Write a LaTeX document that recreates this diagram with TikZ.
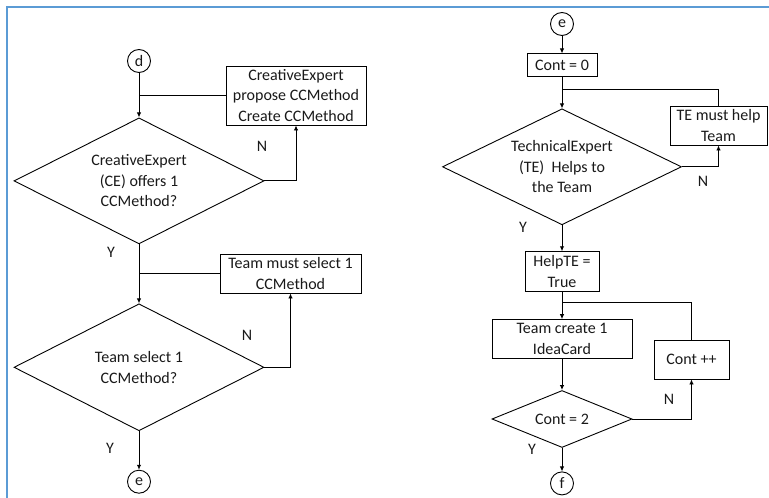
\documentclass[tikz,border=0pt]{standalone}
\usepackage{fontspec}
\setmainfont{Carlito}
\usetikzlibrary{shapes.geometric,arrows.meta,positioning}
\definecolor{frameblue}{RGB}{91,155,213}
\newcommand{\flowfont}{\fontsize{16}{20.5}\selectfont}
\tikzset{
  box/.style={rectangle, draw, align=center, inner sep=0pt, font=\flowfont, text=black!90},
  decision/.style={diamond, draw, aspect=2, align=center, inner sep=0pt, font=\flowfont, text=black!90},
  conn/.style={circle, draw, minimum size=23pt, inner sep=0pt, font=\flowfont, text=black!90},
  lbl/.style={font=\flowfont, inner sep=0pt, text=black!90},
  arr/.style={-{Latex[length=5pt,width=4.5pt]}}
}

\begin{document}
\begin{tikzpicture}[x=1pt, y=-1pt, line width=0.9pt]
\useasboundingbox (0,0) rectangle (769,498);
\draw[frameblue, line width=2.2pt] (7,498) -- (7,7) -- (769,7);

% left flow
\node[conn] (d) at (139,61) {d};
\node[decision, minimum width=250pt, minimum height=126pt, below=44.5pt of d] (ceoffers) {CreativeExpert\\(CE) offers 1\\CCMethod?};
\node[box, minimum width=140pt, minimum height=59pt] (cepropose) at (296,95.5) {CreativeExpert\\propose CCMethod\\Create CCMethod};
\node[decision, minimum width=250pt, minimum height=127pt, below=59pt of ceoffers] (teamsel) {Team select 1\\CCMethod?};
\node[box, minimum width=141pt, minimum height=39pt] (mustsel) at (290.5,273.5) {Team must select 1\\CCMethod};
\node[conn, below=38.5pt of teamsel] (e1) {e};

\draw[arr] (d) -- (ceoffers);
\draw (cepropose.west) -- (cepropose.west -| d);
\draw[arr] (ceoffers.east) -| (cepropose.south);
\draw[arr] (ceoffers) -- (teamsel);
\draw (mustsel.west) -- (mustsel.west -| ceoffers);
\draw[arr] (teamsel.east) -| (mustsel.south);
\draw[arr] (teamsel) -- (e1);
\node[lbl] (n1) at (262,146) {N};
\node[lbl] (y1) at (111,252) {Y};
\node[lbl] (n2) at (247,335) {N};
\node[lbl] (y2) at (110,448) {Y};

% right flow
\node[conn] (e2) at (562,24) {e};
\node[box, minimum width=70pt, minimum height=23pt, below=17.5pt of e2] (cont0) {Cont = 0};
\coordinate[below=12pt of cont0] (j3);
\node[decision, minimum width=239pt, minimum height=116pt, below=31pt of cont0] (tehelps) {TechnicalExpert\\(TE)~~Helps to\\the Team};
\node[box, minimum width=97pt, minimum height=39pt] (temust) at (718.5,125.5) {TE must help\\Team};
\node[box, minimum width=74pt, minimum height=40pt, below=26pt of tehelps] (helpte) {HelpTE =\\True};
\coordinate[below=10pt of helpte] (j4);
\node[box, minimum width=140pt, minimum height=39pt, below=27pt of helpte] (ideacard) {Team create 1\\IdeaCard};
\node[box, minimum width=75pt, minimum height=39pt] (contpp) at (691.5,359.5) {Cont ++};
\node[decision, minimum width=140pt, minimum height=57pt, below=31pt of ideacard] (cont2) {Cont = 2};
\node[conn, below=23.5pt of cont2] (f) {f};

\draw[arr] (e2) -- (cont0);
\draw[arr] (cont0) -- (tehelps);
\draw (temust.north) |- (j3);
\draw[arr] (tehelps.east) -| (temust.south);
\draw[arr] (tehelps) -- (helpte);
\draw[arr] (helpte) -- (ideacard);
\draw (contpp.north) |- (j4);
\draw[arr] (ideacard) -- (cont2);
\draw[arr] (cont2.east) -| (contpp.south);
\draw[arr] (cont2) -- (f);
\node[lbl] (n3) at (703,181) {N};
\node[lbl] (y3) at (523,227) {Y};
\node[lbl] (n4) at (669,399) {N};
\node[lbl] (y4) at (532,449) {Y};
\end{tikzpicture}
\end{document}
